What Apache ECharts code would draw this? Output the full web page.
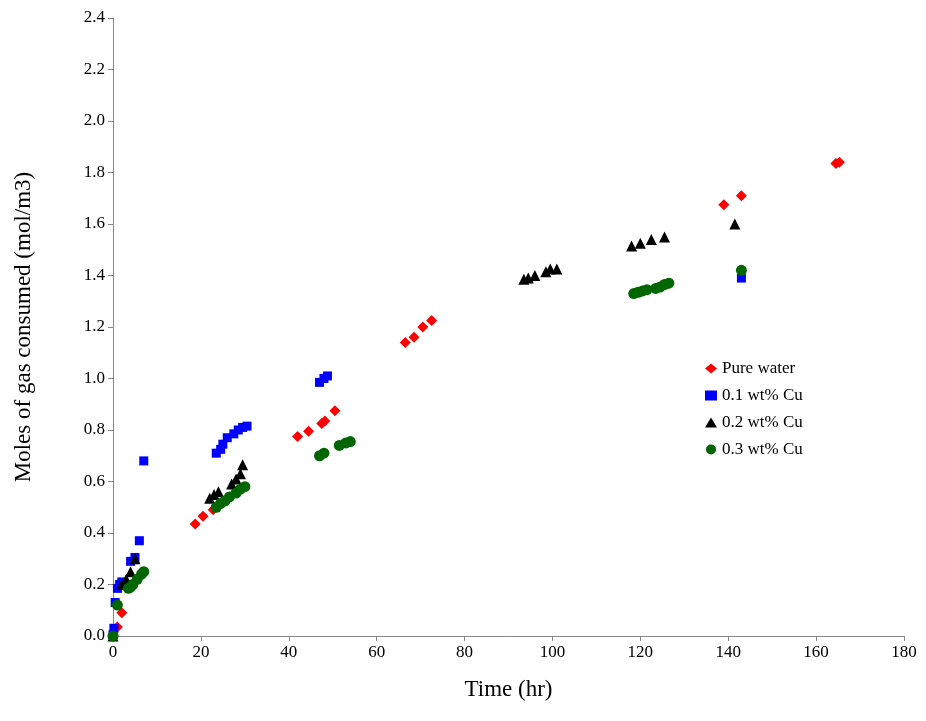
<!DOCTYPE html><html><head><meta charset="utf-8"><script src="https://cdn.jsdelivr.net/npm/echarts@6/dist/echarts.min.js"></script></head><body style="margin:0"><div id="c" style="width:926px;height:721px"></div><script>
const pureWater=[[0,0],[1,0.035],[2,0.09],[18.7,0.435],[20.5,0.465],[22.8,0.49],[24.4,0.515],[42,0.775],[44.5,0.795],[47.5,0.825],[48.2,0.835],[50.5,0.875],[66.5,1.14],[68.5,1.16],[70.5,1.2],[72.5,1.225],[139,1.675],[143,1.71],[164.5,1.835],[165.3,1.84]];
const cu01=[[0,0.005],[0.2,0.03],[0.5,0.13],[1,0.185],[1.5,0.2],[2,0.21],[4,0.29],[5,0.305],[6,0.37],[7,0.68],[23.5,0.71],[24.5,0.725],[25,0.745],[26,0.77],[27.5,0.785],[28.5,0.8],[29.5,0.81],[30.5,0.815],[47,0.985],[48,1.0],[48.8,1.01],[143,1.39]];
const cu02=[[0,0],[2,0.2],[3,0.22],[4,0.25],[5,0.3],[22,0.535],[23,0.55],[24,0.56],[27,0.59],[28,0.61],[29,0.63],[29.5,0.665],[93.5,1.385],[94.5,1.39],[96,1.4],[98.5,1.415],[99.5,1.425],[101,1.425],[118,1.515],[120,1.525],[122.5,1.54],[125.5,1.55],[141.5,1.6]];
const cu03=[[0,0],[1,0.12],[3.5,0.185],[4,0.19],[4.5,0.2],[5.5,0.22],[6.5,0.24],[7,0.25],[23.5,0.5],[24.5,0.515],[25.5,0.525],[26.5,0.54],[28,0.555],[29,0.57],[30,0.58],[47,0.7],[48,0.71],[51.5,0.74],[53,0.75],[54,0.755],[118.5,1.33],[119.5,1.335],[120.5,1.34],[121.5,1.345],[123.5,1.35],[124.5,1.355],[125.5,1.365],[126.5,1.37],[143,1.42]];
const names=['Pure water','0.1 wt% Cu','0.2 wt% Cu','0.3 wt% Cu'];
const F='Liberation Serif';
const base={axisLine:{lineStyle:{color:'#888'}},axisTick:{lineStyle:{color:'#888'},length:5},splitLine:{show:false},nameTextStyle:{color:'#000',fontFamily:F,fontSize:23}};
const lbl={color:'#000',fontFamily:F,fontSize:17};
const ch=echarts.init(document.getElementById('c'));
ch.setOption({animation:false,
grid:{left:113,right:22,top:18,bottom:85},
legend:{orient:'vertical',left:700,top:355,itemGap:10,itemWidth:12,itemHeight:10,textStyle:{fontFamily:F,fontSize:17,color:'#000'},data:names},
xAxis:Object.assign({},base,{type:'value',min:0,max:180,interval:20,name:'Time (hr)',nameLocation:'middle',nameGap:42,axisLabel:lbl}),
yAxis:Object.assign({},base,{type:'value',min:0,max:2.4,interval:0.2,name:'Moles of gas consumed (mol/m3)',nameLocation:'middle',nameGap:78,axisLabel:Object.assign({},lbl,{formatter:v=>v.toFixed(1)})}),
series:[
{name:names[0],type:'scatter',data:pureWater,symbol:'diamond',symbolSize:11,itemStyle:{color:'#ff0000',opacity:1}},
{name:names[1],type:'scatter',data:cu01,symbol:'rect',symbolSize:9,itemStyle:{color:'#0000ff',opacity:1}},
{name:names[2],type:'scatter',data:cu02,symbol:'triangle',symbolSize:11,itemStyle:{color:'#000',opacity:1}},
{name:names[3],type:'scatter',data:cu03,symbol:'circle',symbolSize:11,itemStyle:{color:'#006600',opacity:1}}]});
</script></body></html>
